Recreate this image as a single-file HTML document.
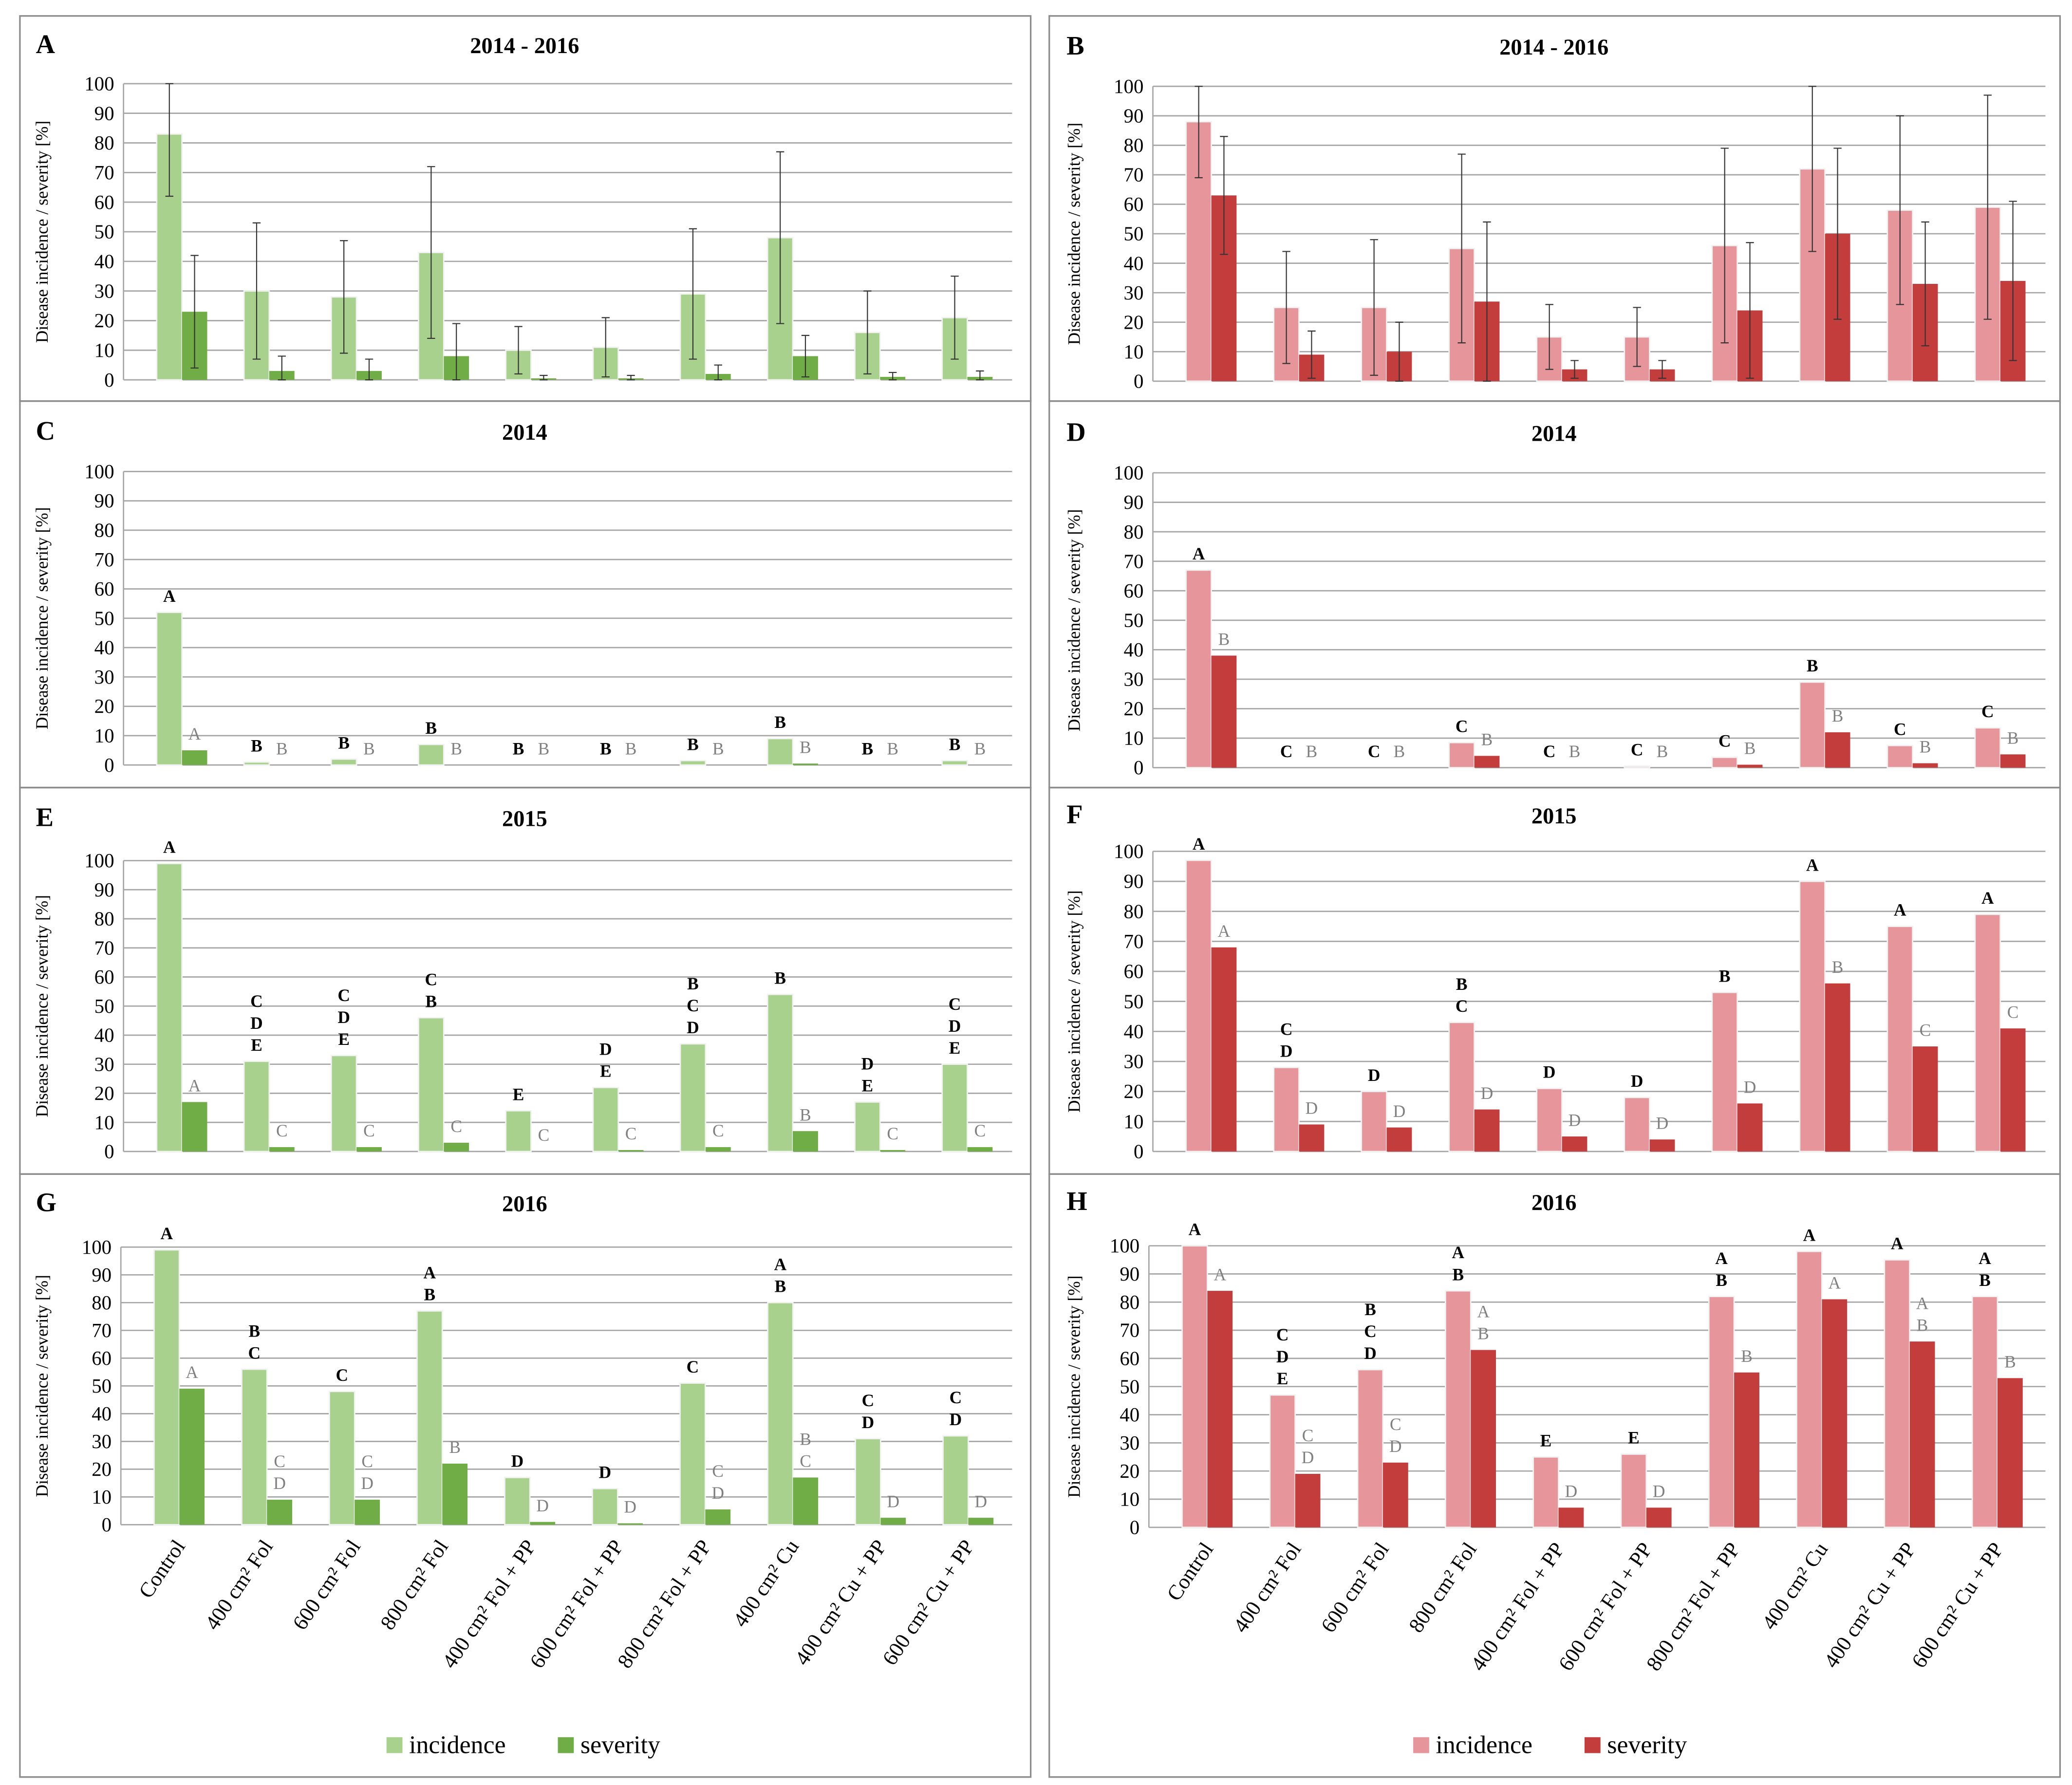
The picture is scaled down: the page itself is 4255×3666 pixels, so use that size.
<!DOCTYPE html>
<html><head><meta charset="utf-8"><style>
html,body{margin:0;padding:0;background:#fff;}
svg{display:block;font-family:"Liberation Serif",serif;}
</style></head><body>
<svg id="c" xmlns="http://www.w3.org/2000/svg" width="4255" height="3666" viewBox="0 0 1560 1344" preserveAspectRatio="none">
<rect x="0" y="0" width="1560" height="1344" fill="#fff"/>
</svg>
<script>
const categories=["Control","400 cm² Fol","600 cm² Fol","800 cm² Fol","400 cm² Fol + PP","600 cm² Fol + PP","800 cm² Fol + PP","400 cm² Cu","400 cm² Cu + PP","600 cm² Cu + PP"];
const yTicks=[0,10,20,30,40,50,60,70,80,90,100];
const incA=[83,30,28,43,10,11,29,48,16,21];
const sevA=[23,3,3,8,0.5,0.5,2,8,1,1];
const incErrA=[21,23,19,29,8,10,22,29,14,14];
const sevErrA=[19,5,4,11,1,1,3,7,1.5,2];
const incB=[88,25,25,45,15,15,46,72,58,59];
const sevB=[63,9,10,27,4,4,24,50,33,34];
const incErrB=[19,19,23,32,11,10,33,28,32,38];
const sevErrB=[20,8,10,27,3,3,23,29,21,27];
const incC=[52,1,2,7,0,0,1.5,9,0,1.5];
const sevC=[5,0,0,0,0,0,0,0.5,0,0];
const incLetC=["A","B","B","B","B","B","B","B","B","B"];
const sevLetC=["A","B","B","B","B","B","B","B","B","B"];
const incD=[67,0,0,8.5,0,0.5,3.5,29,7.5,13.5];
const sevD=[38,0,0,4,0,0,1,12,1.5,4.5];
const incLetD=["A","C","C","C","C","C","C","B","C","C"];
const sevLetD=["B","B","B","B","B","B","B","B","B","B"];
const incE=[99,31,33,46,14,22,37,54,17,30];
const sevE=[17,1.5,1.5,3,0,0.5,1.5,7,0.5,1.5];
const incLetE=["A","CDE","CDE","CB","E","DE","BCD","B","DE","CDE"];
const sevLetE=["A","C","C","C","C","C","C","B","C","C"];
const incF=[97,28,20,43,21,18,53,90,75,79];
const sevF=[68,9,8,14,5,4,16,56,35,41];
const incLetF=["A","CD","D","BC","D","D","B","A","A","A"];
const sevLetF=["A","D","D","D","D","D","D","B","C","C"];
const incG=[99,56,48,77,17,13,51,80,31,32];
const sevG=[49,9,9,22,1,0.5,5.5,17,2.5,2.5];
const incLetG=["A","BC","C","AB","D","D","C","AB","CD","CD"];
const sevLetG=["A","CD","CD","B","D","D","CD","BC","D","D"];
const incH=[100,47,56,84,25,26,82,98,95,82];
const sevH=[84,19,23,63,7,7,55,81,66,53];
const incLetH=["A","CDE","BCD","AB","E","E","AB","A","A","AB"];
const sevLetH=["A","CD","CD","AB","D","D","B","A","AB","B"];

const svg=document.getElementById('c');
const NS="http://www.w3.org/2000/svg";
function el(tag,attrs,txt){const e=document.createElementNS(NS,tag);for(const k in attrs)e.setAttribute(k,attrs[k]);if(txt!==undefined)e.textContent=txt;svg.appendChild(e);return e;}
const GREEN=["#a9d18e","#70ad47"],RED=["#e6969a","#c33d3d"];

function panel(p){
  const yS=v=>p.yb-(p.yb-p.yt)*Math.min(v,100)/100;
  const xS=i=>p.x0+i*p.gw;
  let t;
  t=el('text',{x:p.lx,y:p.ly,'font-size':20,'font-weight':'bold'},p.letter);
  
  
  t=el('text',{x:p.tx,y:p.ly,'font-size':17,'font-weight':'bold','text-anchor':'middle'},p.title);
  
  
  yTicks.forEach(v=>{
    const y=yS(v);
    const g=el('line',{x1:p.x0-12,x2:p.x1,y1:y,y2:y,stroke:'#a6a6a6','stroke-width':1});
    
    
    const tl=el('text',{x:p.x0-19,y:y+5,'font-size':15,'text-anchor':'end'},v);
    
    
  });
  const ax=el('line',{x1:p.x0-12,x2:p.x0-12,y1:p.yt,y2:p.yb,stroke:'#a6a6a6'});
  
  
  const cy=(p.yt+p.yb)/2;
  t=el('text',{x:p.ax,y:cy,'font-size':13,'text-anchor':'middle',transform:`rotate(-90 ${p.ax} ${cy})`},'Disease incidence / severity [%]');
  
  
  const bw=19;
  for(let i=0;i<10;i++){
    [[p.inc,0],[p.sev,1]].forEach(([arr,k])=>{
      const x=xS(i)+13+k*bw, v=arr[i], y=yS(v);
      const r=el('rect',{x:x,y:y,width:bw,height:p.yb-y,fill:p.col[k],stroke:k?'none':'#f2f2f2','stroke-width':1});
      
      
      const err=k?p.sevErr:p.incErr;
      if(err){
        const cx=x+bw/2, up=yS(Math.min(100,v+err[i])), lo=yS(Math.max(0,v-err[i]));
        const e=el('path',{d:`M${cx} ${up}V${lo}M${cx-3} ${up}H${cx+3}M${cx-3} ${lo}H${cx+3}`,stroke:'#333','stroke-width':0.8,fill:'none'});
        
        
      }
      const lets=k?p.sevLet:p.incLet;
      if(lets){
        const s=lets[i];const n=s.length;
        for(let j=0;j<n;j++){
          const lt=el('text',{x:x+bw/2,y:y-8-(n-1-j)*16.5,'font-size':13,'text-anchor':'middle','font-weight':k?'normal':'bold',fill:k?'#808080':'#000'},s[j]);
          
          
        }
      }
    });
  }
  if(p.cats){
    categories.forEach((c,i)=>{
      const x=xS(i)+37, y=p.yb+16;
      const ct=el('text',{x:x,y:y,'font-size':16,'text-anchor':'end',transform:`rotate(-56 ${x} ${y})`},c);
      
      
    });
  }
}
[[15,12,761,290],[15,302,761,291],[15,593,761,291],[15,884,761,454],[790,12,761,290],[790,302,761,291],[790,593,761,291],[790,884,761,454]].forEach(b=>{
  const r=el('rect',{x:b[0],y:b[1],width:b[2],height:b[3],fill:'none',stroke:'#8c8c8c','stroke-width':1.2});
  
  
});
const L={lx:27,tx:395,ax:36,x0:105,gw:65.7,x1:762,col:GREEN};
const R={lx:803,tx:1170,ax:813,x0:880,gw:66,x1:1540,col:RED};
panel(Object.assign({},L,{letter:'A',title:'2014 - 2016',ly:40,yt:63,yb:286,inc:incA,sev:sevA,incErr:incErrA,sevErr:sevErrA}));
panel(Object.assign({},R,{letter:'B',title:'2014  - 2016',ly:41,yt:65,yb:287,inc:incB,sev:sevB,incErr:incErrB,sevErr:sevErrB}));
panel(Object.assign({},L,{letter:'C',title:'2014',ly:331,yt:355,yb:576,inc:incC,sev:sevC,incLet:incLetC,sevLet:sevLetC}));
panel(Object.assign({},R,{letter:'D',title:'2014',ly:332,yt:356,yb:578,inc:incD,sev:sevD,incLet:incLetD,sevLet:sevLetD}));
panel(Object.assign({},L,{letter:'E',title:'2015',ly:622,yt:648,yb:867,inc:incE,sev:sevE,incLet:incLetE,sevLet:sevLetE}));
panel(Object.assign({},R,{letter:'F',title:'2015',ly:620,yt:641,yb:867,inc:incF,sev:sevF,incLet:incLetF,sevLet:sevLetF}));
panel(Object.assign({},L,{letter:'G',title:'2016',ly:912,x0:103,gw:66,yt:939,yb:1148,inc:incG,sev:sevG,incLet:incLetG,sevLet:sevLetG,cats:true}));
panel(Object.assign({},R,{letter:'H',title:'2016',ly:911,x0:877,gw:66.1,yt:938,yb:1150,inc:incH,sev:sevH,incLet:incLetH,sevLet:sevLetH,cats:true}));
[[291,GREEN],[1064,RED]].forEach(([x,col])=>{
  let r=el('rect',{x:x,y:1308,width:12,height:12,fill:col[0]});
  
  
  let t=el('text',{x:x+17,y:1320,'font-size':19},'incidence');
  
  
  r=el('rect',{x:x+129,y:1308,width:12,height:12,fill:col[1]});
  
  
  t=el('text',{x:x+146,y:1320,'font-size':19},'severity');
  
  
});
</script>
</body></html>
